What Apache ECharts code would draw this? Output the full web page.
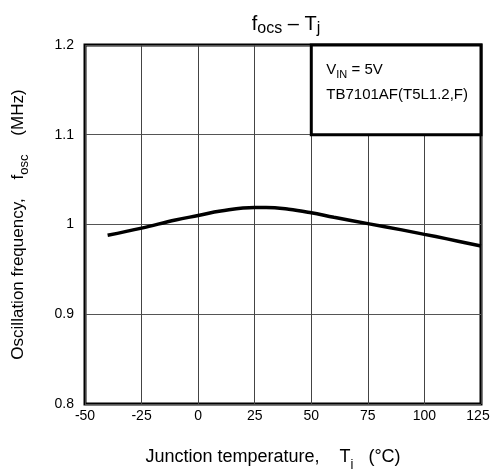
<!DOCTYPE html>
<html>
<head>
<meta charset="utf-8">
<script src="https://cdn.jsdelivr.net/npm/echarts@6/dist/echarts.min.js"></script>
<style>html,body{margin:0;padding:0;background:#fff;}#c{width:491px;height:469px;}</style>
</head>
<body>
<div id="c"></div>
<script>
const temps = [-40, -25, -10, 0, 10, 25, 30, 40, 50, 60, 75, 90, 100, 110, 125];
const freqs = [0.988, 0.996, 1.005, 1.010, 1.015, 1.019, 1.019, 1.017, 1.013, 1.008, 1.001, 0.994, 0.989, 0.984, 0.976];
const xTicks = [-50, -25, 0, 25, 50, 75, 100, 125];
const yTicks = [0.8, 0.9, 1.0, 1.1, 1.2];
const noteBox = [[50, 1.2], [125, 1.1]];
const noteLines = ['{n|V}{s|IN}{n| = 5V}', '{n|TB7101AF(T5L1.2,F)}'];

const FONT = 'Liberation Sans, Arial, sans-serif';
const richN = (fs, lh) => ({fontFamily: FONT, fontSize: fs, color: '#000', verticalAlign: 'bottom', lineHeight: lh});
const chart = echarts.init(document.getElementById('c'));
chart.setOption({
  animation: false,
  backgroundColor: '#fff',
  title: {
    text: '{n|f}{s|ocs}{n| – T}{s|j}',
    left: 281, top: 5, textAlign: 'center',
    textStyle: {
      fontWeight: 'normal',
      rich: {
        n: richN(20, 24),
        s: Object.assign(richN(16, 19), {padding: [0,0,-3,0]})
      }
    }
  },
  grid: {left: 85, right: 10, top: 45, bottom: 65, show: true, borderColor: '#000', borderWidth: 3,
    backgroundColor: 'transparent', containLabel: false, outerBoundsMode: 'none'},
  xAxis: {
    type: 'value', min: xTicks[0], max: xTicks[xTicks.length-1], interval: 25,
    axisLine: {show: false}, axisTick: {show: false},
    axisLabel: {fontFamily: FONT, fontSize: 14, color: '#000', margin: 5,
      formatter: v => v === 125 ? '{r|125}' : String(v),
      rich: {r: {fontFamily: FONT, fontSize: 14, color: '#000', padding: [0, 6, 0, 0]}}},
    splitLine: {show: true, lineStyle: {color: '#444', width: 1}},
    name: '{n|Junction temperature,    T}{s|j}{n|   (°C)}',
    nameLocation: 'middle', nameGap: 40,
    nameTextStyle: {
      padding: [0, 20, 0, 0],
      rich: {
        n: richN(18, 22),
        s: Object.assign(richN(13, 15), {padding: [0,0,-5,0]})
      }
    }
  },
  yAxis: {
    type: 'value', min: yTicks[0], max: yTicks[yTicks.length-1], interval: 0.1,
    axisLine: {show: false}, axisTick: {show: false},
    axisLabel: {fontFamily: FONT, fontSize: 14, color: '#000', margin: 11,
      formatter: v => String(Math.round(v*10)/10)},
    splitLine: {show: true, lineStyle: {color: '#555', width: 1}},
    name: '{n|Oscillation frequency,    f}{s|osc}{n|    (MHz)}',
    nameLocation: 'middle', nameGap: 58, nameRotate: 90,
    nameTextStyle: {
      rich: {
        n: richN(17, 20),
        s: Object.assign(richN(13, 15), {padding: [0,0,-4,0]})
      }
    }
  },
  series: [{
    type: 'line',
    data: temps.map((t, i) => [t, freqs[i]]),
    smooth: 0.4,
    showSymbol: false,
    lineStyle: {color: '#000', width: 3.5},
    markArea: {
      silent: true,
      itemStyle: {color: '#fff', borderColor: '#000', borderWidth: 3},
      label: {show: false},
      data: [[{coord: noteBox[0]}, {coord: noteBox[1]}]]
    }
  }]
});
const p = chart.convertToPixel({gridIndex: 0}, noteBox[0]);
chart.setOption({
  graphic: [{
    type: 'text', left: p[0] + 15, top: p[1] + 17, z: 100,
    style: {
      text: noteLines.join('\n'),
      rich: {
        n: richN(15, 25),
        s: Object.assign(richN(11, 20), {padding: [0,0,-3,0]})
      }
    }
  }]
});
</script>
</body>
</html>
